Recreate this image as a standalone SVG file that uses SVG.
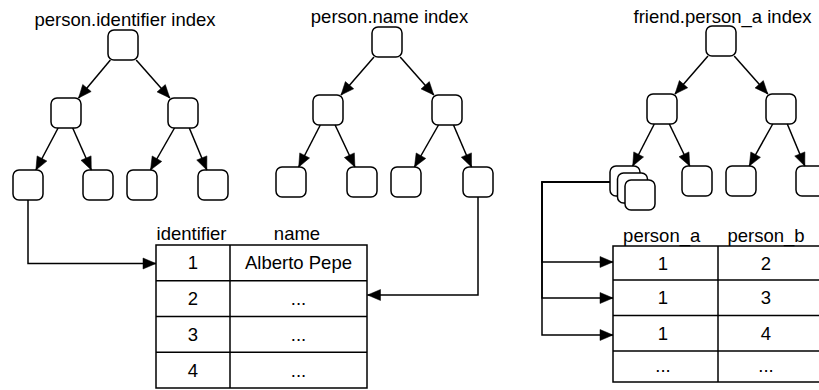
<svg xmlns="http://www.w3.org/2000/svg" width="819" height="390" viewBox="0 0 819 390">
<style>
.n{fill:#fff;stroke:#000;stroke-width:1.5}
.e{fill:none;stroke:#000;stroke-width:1.5}
.c{fill:none;stroke:#000;stroke-width:1.5}
.t{font-family:"Liberation Sans",Arial,Helvetica,sans-serif;font-size:18.5px;fill:#000;text-anchor:middle}
</style>
<defs>
<marker id="ah" markerUnits="userSpaceOnUse" markerWidth="15" markerHeight="13" refX="13" refY="5.5" orient="auto" overflow="visible">
<path d="M0,0 L13,5.5 L0,11 Z" fill="#000" stroke="#000" stroke-width="0.5"/>
</marker>
</defs>
<rect width="819" height="390" fill="#fff"/>

<!-- titles -->
<g id="title1"><text class="t" x="125" y="25.5">person.identifier index</text></g>
<g id="title2"><text class="t" x="389.5" y="23">person.name index</text></g>
<g id="title3"><text class="t" x="722.5" y="22.5">friend.person_a index</text></g>

<!-- tree 1 -->
<g id="t1-root"><rect class="n" x="108" y="30" width="30" height="30" rx="6"/></g>
<g id="t1-l"><rect class="n" x="51" y="98" width="30" height="30" rx="6"/></g>
<g id="t1-r"><rect class="n" x="168" y="98" width="30" height="30" rx="6"/></g>
<g id="t1-ll"><rect class="n" x="13" y="170" width="30" height="30" rx="6"/></g>
<g id="t1-lr"><rect class="n" x="83" y="170" width="30" height="30" rx="6"/></g>
<g id="t1-rl"><rect class="n" x="127" y="170" width="30" height="30" rx="6"/></g>
<g id="t1-rr"><rect class="n" x="198" y="170" width="30" height="30" rx="6"/></g>

<!-- tree 2 -->
<g id="t2-root"><rect class="n" x="372" y="27" width="30" height="30" rx="6"/></g>
<g id="t2-l"><rect class="n" x="313" y="95" width="30" height="30" rx="6"/></g>
<g id="t2-r"><rect class="n" x="432" y="95" width="30" height="30" rx="6"/></g>
<g id="t2-ll"><rect class="n" x="276" y="167" width="30" height="30" rx="6"/></g>
<g id="t2-lr"><rect class="n" x="347" y="167" width="30" height="30" rx="6"/></g>
<g id="t2-rl"><rect class="n" x="391" y="167" width="30" height="30" rx="6"/></g>
<g id="t2-rr"><rect class="n" x="463" y="167" width="30" height="30" rx="6"/></g>

<!-- tree 3 -->
<g id="t3-root"><rect class="n" x="706" y="26" width="30" height="30" rx="6"/></g>
<g id="t3-l"><rect class="n" x="647" y="94" width="30" height="30" rx="6"/></g>
<g id="t3-r"><rect class="n" x="766" y="94" width="30" height="30" rx="6"/></g>
<g id="t3-ll">
<rect class="n" x="610" y="166" width="30" height="30" rx="6"/>
<rect class="n" x="617.5" y="173" width="30" height="30" rx="6"/>
<rect class="n" x="625" y="180" width="30" height="30" rx="6"/>
</g>
<g id="t3-lr"><rect class="n" x="682" y="166" width="30" height="30" rx="6"/></g>
<g id="t3-rl"><rect class="n" x="726" y="166" width="30" height="30" rx="6"/></g>
<g id="t3-rr"><rect class="n" x="796" y="166" width="30" height="30" rx="6"/></g>

<!-- table person -->
<g id="table-person">
<text class="t" x="191.5" y="240">identifier</text>
<text class="t" x="297" y="240">name</text>
<rect class="c" x="156" y="245" width="211" height="143"/>
<line class="c" x1="230" y1="245" x2="230" y2="388"/>
<line class="c" x1="156" y1="280.75" x2="367" y2="280.75"/>
<line class="c" x1="156" y1="316.5" x2="367" y2="316.5"/>
<line class="c" x1="156" y1="352.25" x2="367" y2="352.25"/>
<text class="t" x="193" y="269.3">1</text>
<text class="t" x="298.5" y="269.3">Alberto Pepe</text>
<text class="t" x="193" y="305">2</text>
<text class="t" x="298.5" y="305">...</text>
<text class="t" x="193" y="340.8">3</text>
<text class="t" x="298.5" y="340.8">...</text>
<text class="t" x="193" y="376.5">4</text>
<text class="t" x="298.5" y="376.5">...</text>
</g>

<!-- table friend -->
<g id="table-friend">
<text class="t" x="661.7" y="241.5">person_a</text>
<text class="t" x="766" y="241.5">person_b</text>
<rect class="c" x="613" y="246" width="230" height="136"/>
<line class="c" x1="718" y1="246" x2="718" y2="382"/>
<line class="c" x1="613" y1="280" x2="830" y2="280"/>
<line class="c" x1="613" y1="315.5" x2="830" y2="315.5"/>
<line class="c" x1="613" y1="351" x2="830" y2="351"/>
<text class="t" x="663" y="269.5">1</text>
<text class="t" x="766" y="269.5">2</text>
<text class="t" x="663" y="304">1</text>
<text class="t" x="766" y="304">3</text>
<text class="t" x="663" y="339.5">1</text>
<text class="t" x="766" y="339.5">4</text>
<text class="t" x="663" y="372">...</text>
<text class="t" x="766" y="372">...</text>
</g>

<!-- connectors -->
<g id="connectors" class="e">
<path class="e" d="M110.4,60 L78.6,98" marker-end="url(#ah)"/>
<path class="e" d="M136.2,60 L169.8,98" marker-end="url(#ah)"/>
<path class="e" d="M58.1,128 L35.9,170" marker-end="url(#ah)"/>
<path class="e" d="M72.7,128 L91.3,170" marker-end="url(#ah)"/>
<path class="e" d="M174.5,128 L150.5,170" marker-end="url(#ah)"/>
<path class="e" d="M189.3,128 L206.8,170" marker-end="url(#ah)"/>

<path class="e" d="M374,57 L341,95" marker-end="url(#ah)"/>
<path class="e" d="M400.2,57 L433.8,95" marker-end="url(#ah)"/>
<path class="e" d="M320.3,125 L298.7,167" marker-end="url(#ah)"/>
<path class="e" d="M335.1,125 L354.9,167" marker-end="url(#ah)"/>
<path class="e" d="M438.5,125 L414.5,167" marker-end="url(#ah)"/>
<path class="e" d="M453.5,125 L471.5,167" marker-end="url(#ah)"/>

<path class="e" d="M708,56 L675,94" marker-end="url(#ah)"/>
<path class="e" d="M734.2,56 L767.8,94" marker-end="url(#ah)"/>
<path class="e" d="M654.3,124 L632.7,166" marker-end="url(#ah)"/>
<path class="e" d="M669.3,124 L689.7,166" marker-end="url(#ah)"/>
<path class="e" d="M772.7,124 L749.3,166" marker-end="url(#ah)"/>
<path class="e" d="M787.3,124 L804.8,166" marker-end="url(#ah)"/>

<path class="e" d="M28,200 V263.5 H156" marker-end="url(#ah)"/>
<path class="e" d="M478,197 V295 H367.5" marker-end="url(#ah)"/>
<path class="e" d="M610,182 H542 V262 H613" marker-end="url(#ah)"/>
<path class="e" d="M610,182 H542 V298 H613" marker-end="url(#ah)"/>
<path class="e" d="M610,182 H542 V335 H613" marker-end="url(#ah)"/>
</g>
</svg>
